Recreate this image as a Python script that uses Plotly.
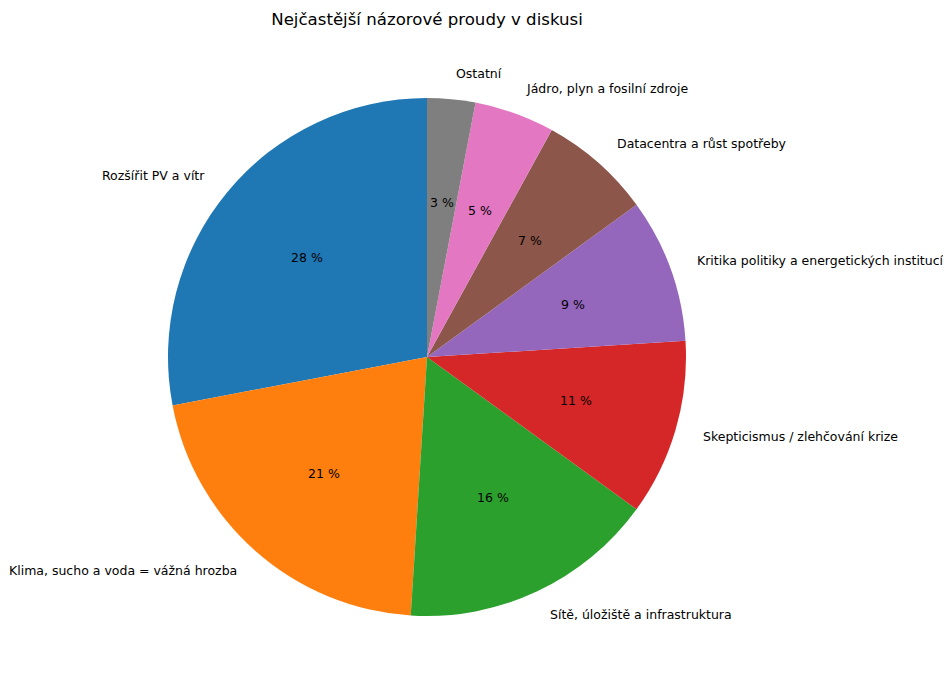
import math
import plotly.graph_objects as go

# data
labels = ["Rozšířit PV a vítr", "Klima, sucho a voda = vážná hrozba",
          "Sítě, úložiště a infrastruktura", "Skepticismus / zlehčování krize",
          "Kritika politiky a energetických institucí", "Datacentra a růst spotřeby",
          "Jádro, plyn a fosilní zdroje", "Ostatní"]
values = [28, 21, 16, 11, 9, 7, 5, 3]
colors = ["#1f77b4", "#ff7f0e", "#2ca02c", "#d62728",
          "#9467bd", "#8c564b", "#e377c2", "#7f7f7f"]

# the page has an 8px body margin, so work in shifted pixel coords
W, H = 943, 683
cx, cy, r = 427 - 8, 356 - 7, 259
total = sum(values)

fig = go.Figure()
fig.add_trace(go.Pie(
    labels=labels, values=values, sort=False, direction="counterclockwise",
    rotation=-360 * values[0] / total,
    marker=dict(colors=colors, line=dict(width=0)),
    textinfo="none", hoverinfo="label+percent", showlegend=False,
    domain=dict(x=[(cx - r) / W, (cx + r) / W], y=[1 - (cy + r) / H, 1 - (cy - r) / H]),
))

font = dict(family="DejaVu Sans", size=12.5, color="black")
cum = 0
for lab, v in zip(labels, values):
    ang = math.radians(90 + 360 * (cum + v / 2) / total)
    cum += v
    c, s = math.cos(ang), math.sin(ang)
    # outer label
    fig.add_annotation(x=(cx + 1.1 * r * c) / W, y=1 - (cy - 1.1 * r * s) / H,
                       xref="paper", yref="paper", text=lab, showarrow=False,
                       xanchor="left" if c > 0 else "right", yanchor="middle", font=font)
    # percentage
    fig.add_annotation(x=(cx + 0.6 * r * c) / W, y=1 - (cy - 0.6 * r * s) / H,
                       xref="paper", yref="paper", text=f"{round(100 * v / total)} %",
                       showarrow=False, xanchor="center", yanchor="middle", font=font)

fig.update_layout(
    width=W, height=H, margin=dict(l=0, r=0, t=0, b=0),
    paper_bgcolor="white", plot_bgcolor="white",
    title=dict(text="Nejčastější názorové proudy v diskusi", x=cx / W, xanchor="center",
               y=1 - (18 - 7) / H, yanchor="middle",
               font=dict(family="DejaVu Sans", size=16.6, color="black")),
)
fig.write_html("out.html")
